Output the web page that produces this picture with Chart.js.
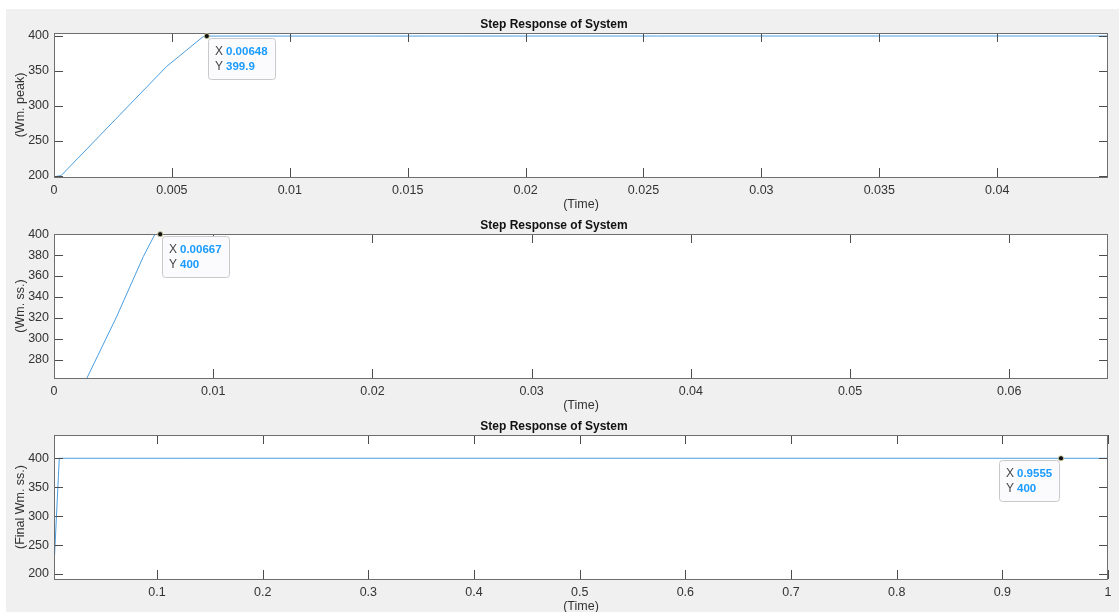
<!DOCTYPE html>
<html>
<head>
<meta charset="utf-8">
<script src="https://cdn.jsdelivr.net/npm/chart.js@4.4.1/dist/chart.umd.min.js"></script>
<style>
  html, body { margin: 0; width: 1119px; height: 612px; overflow: hidden; background: #fff; }
  #panel { position: absolute; left: 6px; top: 9px; right: 0; bottom: 0; background: #f0f0f0; }
  canvas { position: absolute; left: 0; }
</style>
</head>
<body>
<div id="panel"></div>
<canvas id="peak-chart" width="1119" height="215" style="top:0"></canvas>
<canvas id="ss-chart" width="1119" height="215" style="top:201px"></canvas>
<canvas id="final-chart" width="1119" height="215" style="top:402px"></canvas>
<script>
// --- data ---
const peakTime = [0, 0.0003, 0.00476, 0.00632, 0.00648, 0.0447];
const peakSpeed = [199, 200.5, 356, 399, 399.9, 400];
const peakXTicks = [0, 0.005, 0.01, 0.015, 0.02, 0.025, 0.03, 0.035, 0.04];
const peakYTicks = [200, 250, 300, 350, 400];
const peakTip = [0.00648, 399.9];

const ssTime = [0.00207, 0.00393, 0.00561, 0.00634, 0.00667, 0.0662];
const ssSpeed = [262.5, 321, 378.6, 400, 400, 400];
const ssXTicks = [0, 0.01, 0.02, 0.03, 0.04, 0.05, 0.06];
const ssYTicks = [280, 300, 320, 340, 360, 380, 400];
const ssTip = [0.00667, 400];

const finalTime = [0.0025, 0.0075, 0.9555, 1];
const finalSpeed = [212.6, 400, 400, 400];
const finalXTicks = [0.1, 0.2, 0.3, 0.4, 0.5, 0.6, 0.7, 0.8, 0.9, 1];
const finalYTicks = [200, 250, 300, 350, 400];
const finalTip = [0.9555, 400];

const FONT = '"Liberation Sans", Arial, Helvetica, sans-serif';
const AXIS_COLOR = '#333333';
const LINE_COLOR = '#4a9ee0';
const TICK_LEN = 9;

Chart.defaults.font.family = FONT;
Chart.defaults.color = AXIS_COLOR;

// MATLAB style: white axes box with inward ticks on all four sides
const matlabAxes = {
  id: 'matlabAxes',
  beforeDraw(chart) {
    const { ctx, chartArea: a } = chart;
    ctx.save();
    ctx.fillStyle = '#ffffff';
    ctx.fillRect(a.left, a.top, a.width, a.height);
    ctx.restore();
  },
  afterDatasetsDraw(chart) {
    const { ctx, chartArea: a, scales: { x, y } } = chart;
    ctx.save();
    ctx.lineWidth = 1;
    ctx.strokeStyle = '#4d4d4d';
    ctx.beginPath();
    x.ticks.forEach((t) => {
      const px = Math.round(x.getPixelForValue(t.value)) + 0.5;
      ctx.moveTo(px, a.bottom);
      ctx.lineTo(px, a.bottom - TICK_LEN);
      ctx.moveTo(px, a.top);
      ctx.lineTo(px, a.top + TICK_LEN);
    });
    y.ticks.forEach((t) => {
      const py = Math.round(y.getPixelForValue(t.value)) + 0.5;
      ctx.moveTo(a.left, py);
      ctx.lineTo(a.left + TICK_LEN, py);
      ctx.moveTo(a.right, py);
      ctx.lineTo(a.right - TICK_LEN, py);
    });
    ctx.stroke();
    ctx.strokeStyle = '#6e6e6e';
    ctx.strokeRect(Math.round(a.left) + 0.5, Math.round(a.top) + 0.5,
      Math.round(a.width) - 1, Math.round(a.height));
    ctx.restore();
  }
};

// data tip box like MATLAB's datatip
const datatip = {
  id: 'datatip',
  afterDraw(chart, args, opts) {
    if (!opts || opts.x === undefined) return;
    const { ctx, scales: { x, y } } = chart;
    const px = x.getPixelForValue(opts.x);
    const py = y.getPixelForValue(opts.y);
    const labelFont = `12px ${FONT}`;
    const valueFont = `bold 11.5px ${FONT}`;
    const xText = String(opts.x);
    const yText = String(opts.y);

    ctx.save();
    ctx.font = valueFont;
    const textW = Math.max(ctx.measureText(xText).width, ctx.measureText(yText).width);
    const w = Math.round(18 + textW + 7);
    const h = 41;
    const left = Math.round(opts.side === 'left' ? px - 2 - w : px + 1.5);
    const top = Math.round(py + 2);

    ctx.beginPath();
    ctx.roundRect(left + 0.5, top + 0.5, w, h, 3);
    ctx.fillStyle = '#fbfbfe';
    ctx.fill();
    ctx.strokeStyle = '#c9c9c9';
    ctx.lineWidth = 1;
    ctx.stroke();

    ctx.textBaseline = 'middle';
    ctx.font = labelFont;
    ctx.fillStyle = '#444444';
    ctx.fillText('X', left + 7, top + 14);
    ctx.fillText('Y', left + 7, top + 29);
    ctx.font = valueFont;
    ctx.fillStyle = '#1a9bff';
    ctx.fillText(xText, left + 18, top + 14);
    ctx.fillText(yText, left + 18, top + 29);

    ctx.beginPath();
    ctx.arc(px, py, 2.6, 0, Math.PI * 2);
    ctx.fillStyle = '#111111';
    ctx.fill();
    ctx.strokeStyle = '#e6e2b0';
    ctx.lineWidth = 0.8;
    ctx.stroke();
    ctx.restore();
  }
};

const makeStepChart = (id, time, speed, xTicks, yTicks, tip, yLabel, xMin, xMax, yMin, yMax, tipSide) => {
  const canvas = document.getElementById(id);
  const points = time.map((t, i) => ({ x: t, y: speed[i] }));

  new Chart(canvas, {
    type: 'line',
    data: {
      datasets: [{
        data: points,
        borderColor: LINE_COLOR,
        borderWidth: 1,
        pointRadius: 0,
        tension: 0
      }]
    },
    options: {
      responsive: false,
      animation: false,
      devicePixelRatio: 1,
      events: [],
      layout: { padding: { left: 0, right: 11, top: 0, bottom: 0 } },
      scales: {
        x: {
          type: 'linear',
          min: xMin,
          max: xMax,
          afterFit: (scale) => { scale.height = 38; },
          afterBuildTicks: (scale) => { scale.ticks = xTicks.map((value) => ({ value })); },
          grid: { display: false, drawTicks: false },
          border: { display: false },
          ticks: {
            autoSkip: false,
            maxRotation: 0,
            padding: 6,
            font: { size: 12.5 },
            callback: (value) => String(value)
          },
          title: {
            display: true,
            text: '(Time)',
            font: { size: 12.5 },
            padding: { top: 0, bottom: 3 }
          }
        },
        y: {
          min: yMin,
          max: yMax,
          afterFit: (scale) => { scale.width = 54; },
          afterBuildTicks: (scale) => { scale.ticks = yTicks.map((value) => ({ value })); },
          grid: { display: false, drawTicks: false },
          border: { display: false },
          ticks: {
            autoSkip: false,
            padding: 5,
            font: { size: 12.5 },
            callback: (value) => String(value)
          },
          title: {
            display: true,
            text: yLabel,
            font: { size: 12.5 },
            padding: { top: 13, bottom: 0 }
          }
        }
      },
      plugins: {
        legend: { display: false },
        tooltip: { enabled: false },
        title: {
          display: true,
          text: 'Step Response of System',
          color: '#111111',
          font: { size: 12, weight: 'bold' },
          padding: { top: 17, bottom: 1.6 }
        },
        datatip: { x: tip[0], y: tip[1], side: tipSide }
      }
    },
    plugins: [matlabAxes, datatip]
  });
};

makeStepChart('peak-chart', peakTime, peakSpeed, peakXTicks, peakYTicks, peakTip,
  '(Wm. peak)', 0, 0.0447, 198.6, 404.3, 'right');
makeStepChart('ss-chart', ssTime, ssSpeed, ssXTicks, ssYTicks, ssTip,
  '(Wm. ss.)', 0, 0.0662, 262.5, 400.2, 'right');
makeStepChart('final-chart', finalTime, finalSpeed, finalXTicks, finalYTicks, finalTip,
  '(Final Wm. ss.)', 0.0025, 1, 191.4, 440.2, 'left');
</script>
</body>
</html>
